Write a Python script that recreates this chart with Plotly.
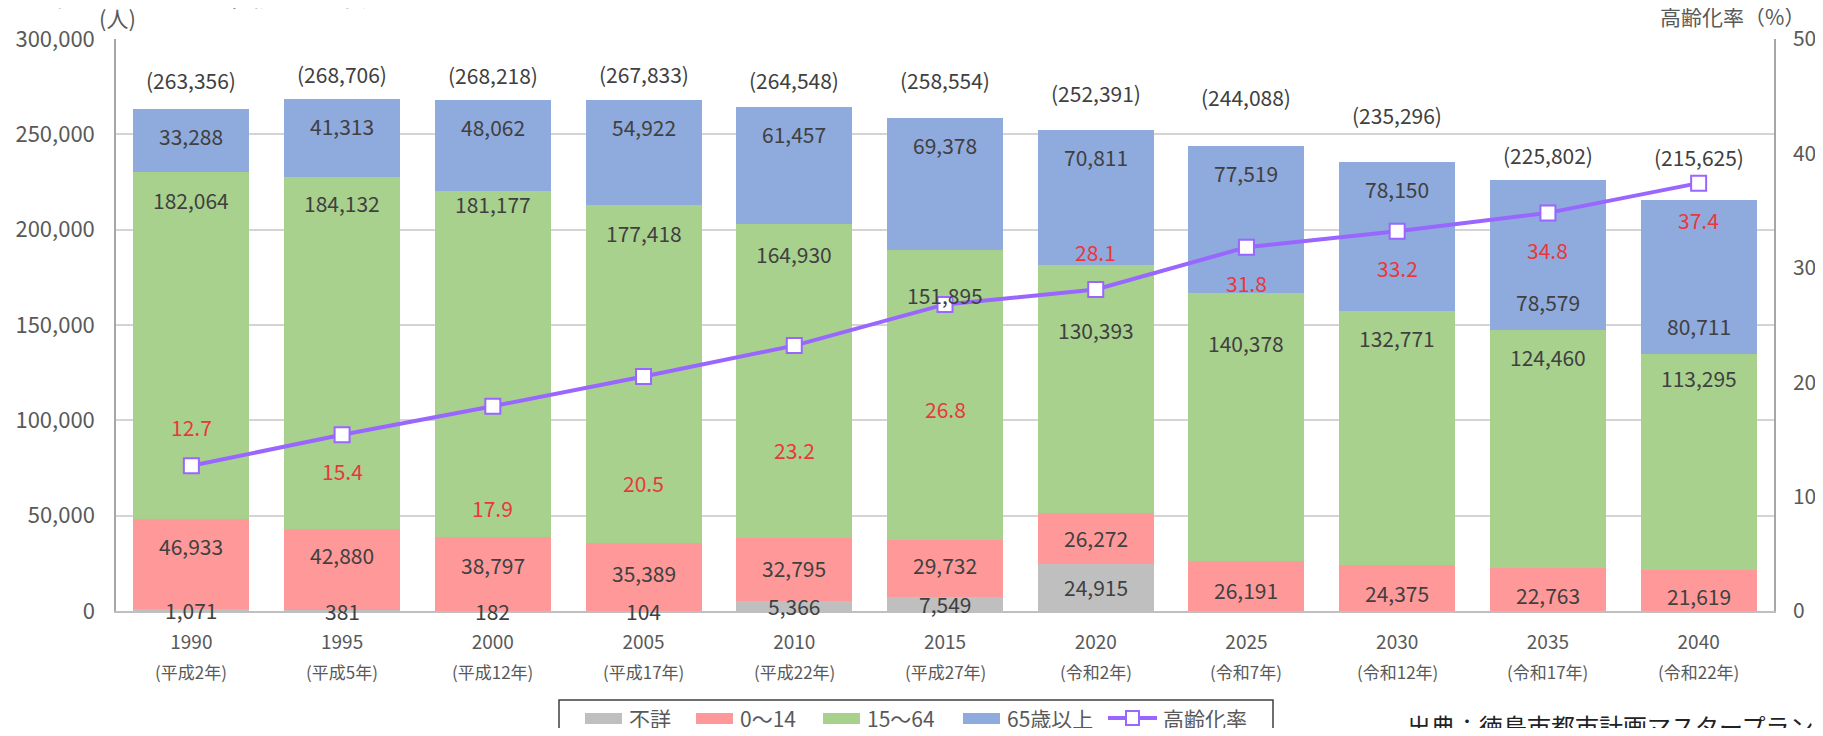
import plotly.graph_objects as go

# ---------------- data ----------------
years = ["1990", "1995", "2000", "2005", "2010", "2015", "2020", "2025", "2030", "2035", "2040"]
eras = ["(平成2年)", "(平成5年)", "(平成12年)", "(平成17年)", "(平成22年)", "(平成27年)",
        "(令和2年)", "(令和7年)", "(令和12年)", "(令和17年)", "(令和22年)"]
unknown = [1071, 381, 182, 104, 5366, 7549, 24915, None, None, None, None]
age_0_14 = [46933, 42880, 38797, 35389, 32795, 29732, 26272, 26191, 24375, 22763, 21619]
age_15_64 = [182064, 184132, 181177, 177418, 164930, 151895, 130393, 140378, 132771, 124460, 113295]
age_65 = [33288, 41313, 48062, 54922, 61457, 69378, 70811, 77519, 78150, 78579, 80711]
totals = [263356, 268706, 268218, 267833, 264548, 258554, 252391, 244088, 235296, 225802, 215625]
aging_rate = [12.7, 15.4, 17.9, 20.5, 23.2, 26.8, 28.1, 31.8, 33.2, 34.8, 37.4]

series_names = ["不詳", "0～14", "15～64", "65歳以上", "高齢化率"]
y_ticks = [0, 50000, 100000, 150000, 200000, 250000, 300000]
y2_ticks = [0, 10, 20, 30, 40, 50]

# ---------------- style ----------------
C_GRAY = "#BFBFBF"
C_PINK = "#FF9999"
C_GREEN = "#A9D18E"
C_BLUE = "#8FAADC"
C_LINE = "#9966FF"
C_RED = "#E8383D"
C_TXT = "#404040"
C_AX = "#595959"
FONT = "Noto Sans CJK JP, Noto Sans, sans-serif"

# page geometry (the page body has an 8px margin on every side)
BODY = 8
PAGE_W, PAGE_H = 1823, 736
PL, PT, PR, PB = 116, 39, 1774, 611          # plot area in page pixels
W, H = PAGE_W - BODY, PAGE_H - 2 * BODY
ML, MT = PL - BODY, PT - BODY
MR, MB = PAGE_W - PR, (BODY + H) - PB
PW, PH = PR - PL, PB - PT

def px_x(p):
    return (p - PL) / PW

def px_y(p):
    return (PB - p) / PH

# label pixel offsets (style only)
total_shift = [29, 25, 25, 26, 27, 38, 37, 49, 47, 25, 43]
blue_from_bottom = [False] * 9 + [True, True]
green_shift = [28, 26, 13, 28, 30, 45, 65, 50, 27, 27, 24]
pink_shift = [18, 14, 9, 4, 2, 3, 0, -4, -5, -6, -6]
rate_shift = [39, -36, -102, -107, -104, -105, 38, -36, -37, -37, -37]

fig = go.Figure()
for vals, col, nm in [(unknown, C_GRAY, series_names[0]), (age_0_14, C_PINK, series_names[1]),
                      (age_15_64, C_GREEN, series_names[2]), (age_65, C_BLUE, series_names[3])]:
    fig.add_trace(go.Bar(x=years, y=vals, name=nm, marker=dict(color=col, line=dict(width=0)),
                         showlegend=False, hoverinfo="skip"))

fig.add_trace(go.Scatter(x=years, y=aging_rate, yaxis="y2", name=series_names[4], mode="lines+markers",
                         line=dict(color=C_LINE, width=4),
                         marker=dict(symbol="square", size=15, color="white",
                                     line=dict(color=C_LINE, width=2)),
                         showlegend=False, hoverinfo="skip"))

ann = []
lab_font = dict(family=FONT, size=21, color=C_TXT)
for i, yr in enumerate(years):
    g = unknown[i] or 0
    p_top = g + age_0_14[i]
    gr_top = p_top + age_15_64[i]
    b_top = gr_top + age_65[i]
    if unknown[i]:
        ann.append(dict(x=i, y=g / 2, text=f"{g:,}", showarrow=False, font=lab_font, yanchor="middle"))
    ann.append(dict(x=i, y=(g + p_top) / 2, yshift=pink_shift[i], text=f"{age_0_14[i]:,}",
                    showarrow=False, font=lab_font, yanchor="middle"))
    ann.append(dict(x=i, y=gr_top, yshift=-green_shift[i], text=f"{age_15_64[i]:,}",
                    showarrow=False, font=lab_font, yanchor="middle"))
    if blue_from_bottom[i]:
        ann.append(dict(x=i, y=gr_top, yshift=28, text=f"{age_65[i]:,}",
                        showarrow=False, font=lab_font, yanchor="middle"))
    else:
        ann.append(dict(x=i, y=b_top, yshift=-27, text=f"{age_65[i]:,}",
                        showarrow=False, font=lab_font, yanchor="middle"))
    ann.append(dict(x=i, y=totals[i], yshift=total_shift[i], text=f"({totals[i]:,})",
                    showarrow=False, font=lab_font, yanchor="middle"))
    ann.append(dict(x=i, y=aging_rate[i], yref="y2", yshift=rate_shift[i], text=f"{aging_rate[i]}",
                    showarrow=False, font=dict(family=FONT, size=21, color=C_RED), yanchor="middle"))
    ann.append(dict(x=i, y=px_y(671), yref="paper", text=eras[i], showarrow=False,
                    font=dict(family=FONT, size=17, color=C_AX), yanchor="middle"))

# axis titles & texts
ann.append(dict(x=px_x(117), y=px_y(17), xref="paper", yref="paper", text="(人)", showarrow=False,
                font=dict(family=FONT, size=22, color=C_AX), xanchor="center", yanchor="middle"))
ann.append(dict(x=px_x(1732), y=px_y(16), xref="paper", yref="paper", text="高齢化率（%）", showarrow=False,
                font=dict(family=FONT, size=21, color=C_AX), xanchor="center", yanchor="middle"))
ann.append(dict(x=px_x(17), y=px_y(16), xref="paper", yref="paper", text="■ 総人口の人口推移と将来見通し",
                showarrow=False, font=dict(family=FONT, size=28, color="#222222"),
                xanchor="left", yanchor="bottom"))
ann.append(dict(x=px_x(1405), y=px_y(706), xref="paper", yref="paper", text="出典：徳島市都市計画マスタープラン",
                showarrow=False, font=dict(family=FONT, size=24, color="#222222"),
                xanchor="left", yanchor="top"))

# custom legend
LEG_Y = 718
shapes = [dict(type="rect", xref="paper", yref="paper", x0=px_x(559), x1=px_x(1273),
               y0=px_y(760), y1=px_y(700), line=dict(color="#404040", width=1.5), fillcolor="white")]
leg_items = [(585, C_GRAY, 627, series_names[0]), (696, C_PINK, 738, series_names[1]),
             (823, C_GREEN, 865, series_names[2]), (963, C_BLUE, 1005, series_names[3])]
leg_font = dict(family=FONT, size=21, color=C_AX)
for sx, col, tx, nm in leg_items:
    shapes.append(dict(type="rect", xref="paper", yref="paper", x0=px_x(sx), x1=px_x(sx + 37),
                       y0=px_y(LEG_Y + 6), y1=px_y(LEG_Y - 5), line=dict(width=0), fillcolor=col))
    ann.append(dict(x=px_x(tx), y=px_y(LEG_Y), xref="paper", yref="paper", text=nm, showarrow=False,
                    font=leg_font, xanchor="left", yanchor="middle"))
shapes.append(dict(type="line", xref="paper", yref="paper", x0=px_x(1108), x1=px_x(1157),
                   y0=px_y(LEG_Y), y1=px_y(LEG_Y), line=dict(color=C_LINE, width=4)))
shapes.append(dict(type="rect", xref="paper", yref="paper", x0=px_x(1126), x1=px_x(1139),
                   y0=px_y(LEG_Y + 7), y1=px_y(LEG_Y - 7), line=dict(color=C_LINE, width=2),
                   fillcolor="white"))
ann.append(dict(x=px_x(1161), y=px_y(LEG_Y), xref="paper", yref="paper", text=series_names[4],
                showarrow=False, font=leg_font, xanchor="left", yanchor="middle"))

fig.update_layout(
    width=W, height=H,
    margin=dict(l=ML, r=MR, t=MT, b=MB, pad=0, autoexpand=False),
    barmode="stack", bargap=0.23,
    plot_bgcolor="white", paper_bgcolor="white",
    font=dict(family=FONT, color=C_AX),
    xaxis=dict(type="category", range=[-0.5, len(years) - 0.5], showline=True, linecolor="#BFBFBF",
               linewidth=1.5, mirror=False, automargin=False,
               ticks="", ticklabelstandoff=13, tickfont=dict(family=FONT, size=19, color=C_AX),
               showgrid=False),
    yaxis=dict(range=[0, 300000], tickvals=y_ticks, tickformat=",", showgrid=True, automargin=False,
               gridcolor="#D4D4D4", gridwidth=1.5, showline=True, linecolor="#A6A6A6", linewidth=1.5,
               ticks="", ticklabelstandoff=15, tickfont=dict(family=FONT, size=22, color=C_AX),
               zeroline=False),
    yaxis2=dict(range=[0, 50], tickvals=y2_ticks, overlaying="y", side="right", showgrid=False,
                automargin=False,
                showline=True, linecolor="#A6A6A6", linewidth=1.5, ticks="", ticklabelstandoff=13,
                tickfont=dict(family=FONT, size=21, color=C_AX), zeroline=False),
    annotations=ann,
    shapes=shapes,
    showlegend=False,
)

fig.write_html("out.html")
